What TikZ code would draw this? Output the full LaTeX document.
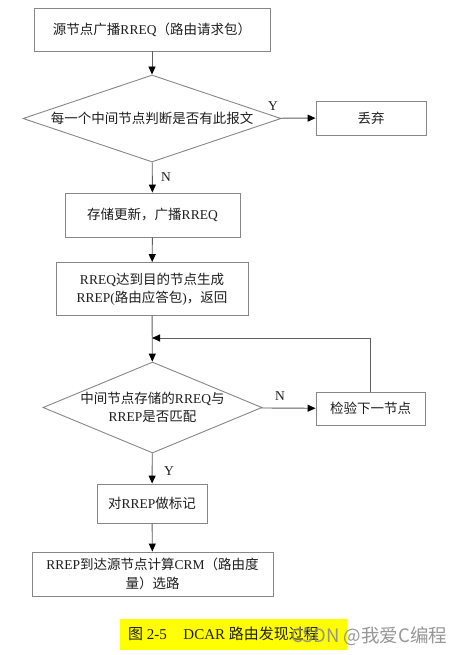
\documentclass[tikz,border=0pt]{standalone}
\usepackage{fontspec}
\setmainfont{Liberation Serif}
\newfontfamily\cj{Noto Sans CJK SC}
\newfontfamily\wmfont{Noto Sans CJK SC}
\usetikzlibrary{shapes.geometric,arrows.meta}
\newcommand\zh[1]{{\cj #1}}
\newcommand\fs{\fontsize{13.5}{18.5}\selectfont}
\definecolor{boxgray}{RGB}{135,135,135}
\definecolor{linegray}{RGB}{95,95,95}
\definecolor{txt}{RGB}{30,30,30}
\definecolor{capyellow}{RGB}{255,255,0}
\definecolor{wmgray}{RGB}{140,140,140}
\tikzset{
  box/.style={draw=boxgray, line width=0.9pt, rectangle, inner sep=0pt, align=center, font=\fs, text=txt},
  dia/.style={draw=boxgray, line width=0.9pt, diamond, inner sep=0pt},
  arr/.style={draw=linegray, line width=0.9pt, -{Triangle[length=8pt,width=7pt,color=black]}},
  yn/.style={font=\fontsize{13.5}{16}\selectfont, text=txt, inner sep=0pt}
}
\begin{document}
\begin{tikzpicture}[x=1pt,y=-1pt]
\fill[white] (0,0) rectangle (465,655);
\useasboundingbox (0,0) rectangle (465,655);

\node[box, minimum width=236pt, minimum height=43pt] (b1) at (152,29.5) {\zh{源节点广播}RREQ\zh{（路由请求包）}};
\node[dia, minimum width=258pt, minimum height=87pt,
  label={[font=\fs, text=txt, align=center]center:\zh{每一个中间节点判断是否有此报文}}] (d1) at (152,118.5) {};
\node[box, minimum width=110pt, minimum height=34pt] (discard) at (371,118) {\zh{丢弃}};
\node[box, minimum width=175pt, minimum height=44pt] (b3) at (152.5,215) {\zh{存储更新，广播}RREQ};
\node[box, minimum width=192pt, minimum height=53pt] (b4) at (152,289) {RREQ\zh{达到目的节点生成}\\RREP(\zh{路由应答包})\zh{，返回}};
\node[dia, minimum width=219pt, minimum height=91pt,
  label={[font=\fs, text=txt, align=center]center:\zh{中间节点存储的}RREQ\zh{与}\\RREP\zh{是否匹配}}] (d2) at (152.5,407.5) {};
\node[box, minimum width=109pt, minimum height=33pt] (chk) at (370.5,408.5) {\zh{检验下一节点}};
\node[box, minimum width=110pt, minimum height=39pt] (mark) at (152,503.5) {\zh{对}RREP\zh{做标记}};
\node[box, minimum width=241pt, minimum height=44pt] (last) at (152.5,574) {RREP\zh{到达源节点计算}CRM\zh{（路由度}\\\zh{量）选路}};

\coordinate (j) at (152,338);

\draw[arr] (b1) -- (d1);
\draw[arr] (d1) -- (discard);
\draw[arr] (d1) -- (b3);
\draw[arr] (b3) -- (b4);
\draw[arr] (b4) -- (d2);
\draw[arr] (d2) -- (chk);
\draw[arr] (chk.north) |- (j);
\draw[arr] (d2) -- (mark);
\draw[arr] (mark) -- (last);

\node[yn] (y1) at (273,106) {Y};
\node[yn] (n1) at (166,177) {N};
\node[yn] (n2) at (280,396) {N};
\node[yn] (y2) at (169,471) {Y};

\fill[capyellow] (120,619) rectangle (347,650);
\node[anchor=west, inner sep=0pt, text=txt, font=\fontsize{15}{17}\selectfont] (cap) at (128,634) {\zh{图} 2-5\hspace{1.1em}DCAR \zh{路由发现过程}};
\node[anchor=west, inner sep=0pt, text=wmgray, opacity=0.9, font=\wmfont\fontsize{18.5}{20}\selectfont] (wm) at (291,636) {CSDN @我爱C编程};
\end{tikzpicture}
\end{document}
